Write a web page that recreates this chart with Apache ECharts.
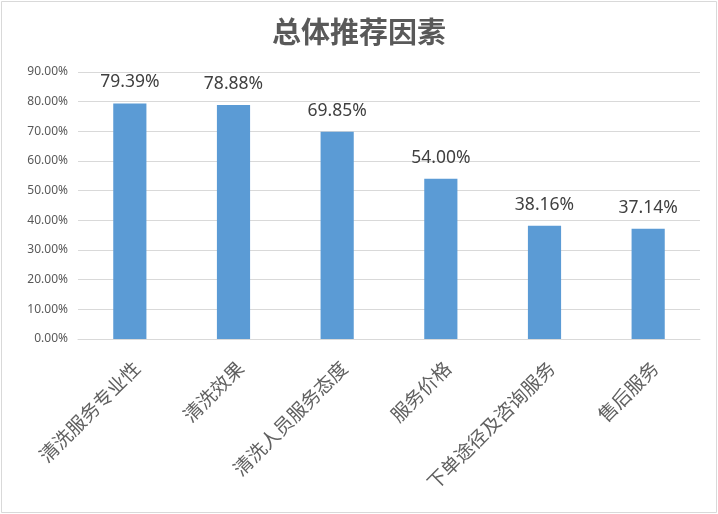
<!DOCTYPE html>
<html><head><meta charset="utf-8">
<script src="https://cdn.jsdelivr.net/npm/echarts@6/dist/echarts.min.js"></script>
<style>html,body{margin:0;padding:0;background:#fff}#c{position:absolute;left:0;top:0;width:718px;height:514px}</style>
</head><body><div id="c"></div>
<script>
const categories = ['清洗服务专业性','清洗效果','清洗人员服务态度','服务价格','下单途径及咨询服务','售后服务'];
const values = [79.39, 78.88, 69.85, 54.00, 38.16, 37.14];
const chart = echarts.init(document.getElementById('c'));
chart.setOption({
  animation: false,
  backgroundColor: '#fff',
  title: {
    text: '总体推荐因素', left: 'center', top: 12,
    textStyle: { fontFamily: 'Noto Sans CJK SC', fontSize: 29, fontWeight: 'bold', color: '#595959' }
  },
  graphic: [{ type: 'rect', shape: { x: 1.5, y: 1.5, width: 715, height: 511 }, style: { fill: 'none', stroke: '#d9d9d9', lineWidth: 1 }, silent: true }],
  grid: { left: 78, right: 18, top: 72, bottom: 175, containLabel: false },
  xAxis: {
    type: 'category', data: categories,
    axisLine: { lineStyle: { color: '#d9d9d9' } },
    axisTick: { show: false },
    axisLabel: { rotate: 45, interval: 0, margin: 19, verticalAlign: 'top', fontFamily: 'Noto Sans CJK SC', fontSize: 19, color: '#606060' }
  },
  yAxis: {
    type: 'value', min: 0, max: 90, interval: 10,
    axisLine: { show: false }, axisTick: { show: false },
    splitLine: { lineStyle: { color: '#d9d9d9' } },
    axisLabel: { formatter: v => v.toFixed(2) + '%', fontFamily: 'Noto Sans', fontSize: 12, color: '#595959', margin: 10 }
  },
  series: [{
    type: 'bar', data: values, barWidth: '32%',
    itemStyle: { color: '#5b9bd5' },
    label: { show: true, position: 'top', distance: 12, formatter: p => p.value.toFixed(2) + '%', fontFamily: 'Noto Sans', fontSize: 17.5, color: '#404040' }
  }]
});
</script></body></html>
